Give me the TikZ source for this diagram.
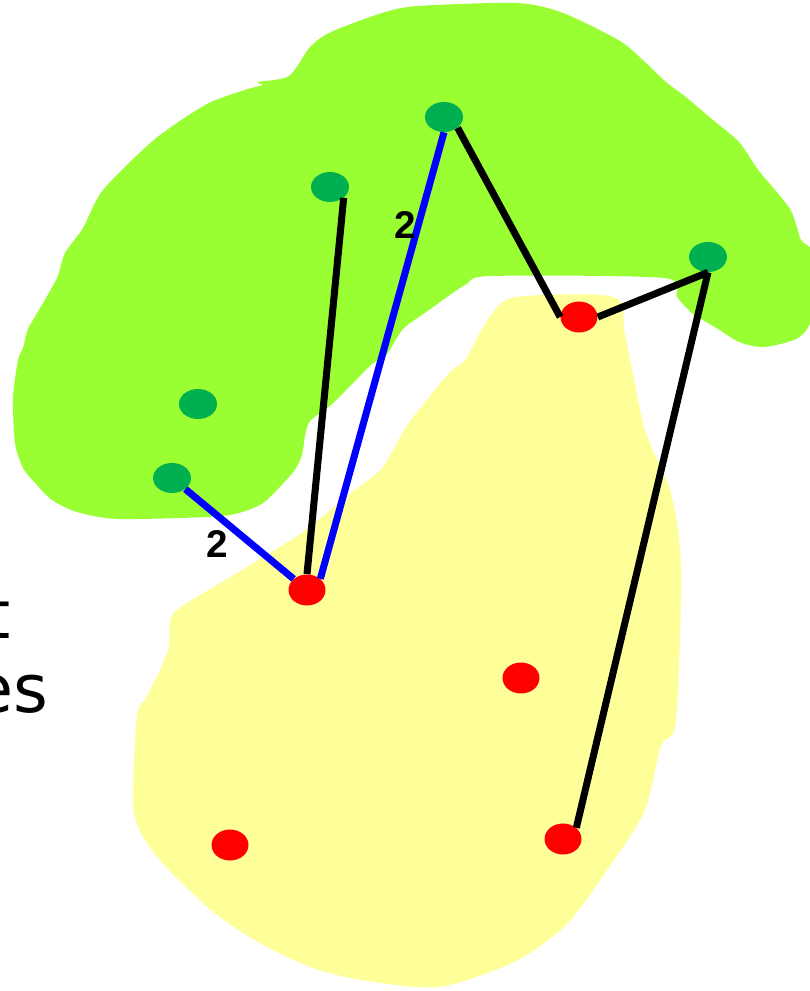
\documentclass[tikz,border=0pt]{standalone}
\usepackage{fontspec}
\setsansfont{DejaVu Sans}
\newfontfamily\labelfont{Liberation Sans}
\usetikzlibrary{positioning,shapes.geometric}

\definecolor{leafgreen}{RGB}{153,255,51}
\definecolor{dotgreen}{RGB}{0,176,80}
\definecolor{paleyellow}{RGB}{255,255,153}

\begin{document}
\begin{tikzpicture}[x=0.02cm, y=-0.02cm]
\tikzset{
    gdot/.style={ellipse, fill=dotgreen, inner sep=0pt, minimum width=0.76cm, minimum height=0.6cm},
    rdot/.style={ellipse, fill=red, inner sep=0pt, minimum width=0.74cm, minimum height=0.62cm},
    link/.style={line width=4pt, black},
    wlink/.style={line width=4pt, blue},
    weight/.style={font=\labelfont\bfseries\fontsize{22}{26}\selectfont, inner sep=0pt},
    sidetext/.style={font=\sffamily\fontsize{38}{42}\selectfont, inner sep=0pt}
}
\useasboundingbox (0,0) rectangle (810,991);

% the two regions
\fill[leafgreen] plot[smooth cycle, tension=0.45] coordinates {
    (258,82) (289,76) (310,47) (331,32) (382,13) (418,6) (517,3) (563,13)
    (620,41) (646,63) (666,82) (687,98) (713,120) (739,142) (759,171) (790,209)
    (801,240) (812,253) (812,316) (798,338) (764,347) (739,342) (718,329)
    (692,313) (677,297) (664,278) (491,276) (465,285) (429,310) (403,329)
    (387,354) (372,364) (356,380) (331,405) (310,421) (305,436) (302,455)
    (294,471) (274,493) (258,506) (222,516) (119,519) (77,512) (52,500)
    (36,484) (23,468) (15,443) (13,398) (18,360) (23,348) (28,329) (39,310)
    (57,278) (65,253) (83,228) (103,190) (155,139) (207,104) (248,89) (263,85)};
\fill[paleyellow] plot[smooth cycle, tension=0.45] coordinates {
    (516,297) (614,297) (625,335) (645,430) (671,493) (681,569) (676,721)
    (661,746) (645,810) (614,860) (568,923) (516,961) (439,987) (361,980)
    (310,967) (258,942) (212,911) (165,866) (142,835) (133,803) (137,715)
    (147,696) (168,651) (170,620) (181,607) (232,576) (300,534) (351,493)
    (382,468) (408,424) (449,373) (465,360) (490,316)};

% cut-off text on the left
\node[sidetext, anchor=base east] (txta) at (11,638) {t};
\node[sidetext, anchor=base east] (txtb) at (49,712) {es};

% green points
\node[gdot] (g1) at (444,117) {};
\node[gdot] (g2) at (330,187) {};
\node[gdot] (g3) at (708,257) {};
\node[gdot] (g4) at (198,404) {};
\node[gdot] (g5) at (172,478) {};

% red points
\node[rdot] (r1) at (307,590) {};
\node[rdot] (r2) at (579,317) {};
\node[rdot] (r3) at (521,678) {};
\node[rdot] (r4) at (563,839) {};
\node[rdot] (r5) at (230,845) {};

% connections
\draw[wlink] (g5) -- (r1);
\draw[link] (g2.south east) -- (r1.north);
\draw[wlink] (g1.south) -- (r1.north east);
\draw[link] (g1.south east) -- (r2.west);
\draw[link] (r2.east) -- (g3.south);
\draw[link] (g3.south) -- (r4.north east);

\node[weight] (w1) at (217,544) {2};
\node[weight] (w2) at (405,225) {2};
\end{tikzpicture}
\end{document}
